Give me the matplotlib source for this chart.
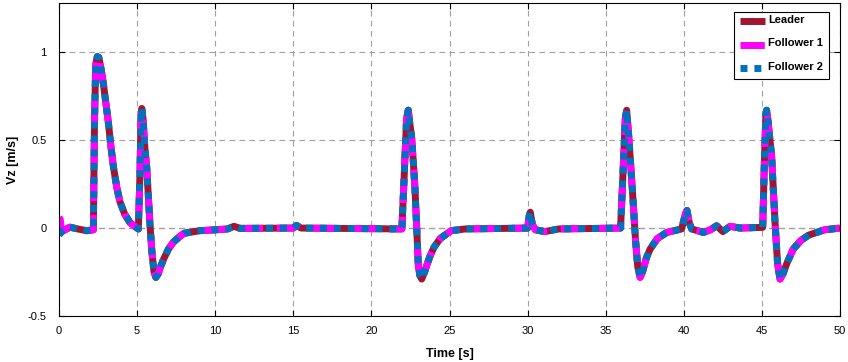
import numpy as np
import matplotlib.pyplot as plt

plt.rcParams['font.family'] = ['Liberation Sans', 'DejaVu Sans']

# Leader vertical velocity
leader_t = [0, 0.17, 0.7, 1.2, 1.77, 2.2, 2.27, 2.35, 2.45, 2.55, 2.7, 2.84, 3.0, 3.16, 3.3,
            3.48, 3.7, 3.9, 4.2, 4.55, 4.85, 5.08, 5.18, 5.25, 5.3, 5.38, 5.5, 5.61, 5.72,
            5.83, 5.95, 6.08, 6.2, 6.35, 6.5, 6.68, 7.0, 7.32, 7.7, 8.0, 9.0, 10.0, 10.8,
            11.2, 11.6, 15.0, 15.2, 15.5, 21.95, 22.1, 22.25, 22.36, 22.45, 22.58, 22.7,
            22.79, 22.9, 23.0, 23.1, 23.22, 23.4, 23.55, 23.75, 24.0, 24.4, 25.1, 26.0,
            30.0, 30.1, 30.17, 30.3, 30.5, 31.1, 32.0, 35.95, 36.1, 36.25, 36.34, 36.45,
            36.56, 36.77, 36.9, 37.05, 37.2, 37.35, 37.6, 37.84, 38.3, 38.9, 39.86, 40.1,
            40.2, 40.35, 40.5, 41.25, 41.7, 42.1, 42.5, 42.96, 43.6, 45.05, 45.15, 45.25,
            45.3, 45.4, 45.62, 45.84, 46.0, 46.16, 46.35, 46.6, 47.0, 47.5, 48.0, 49.0, 50.0]
leader_v = [-0.03, -0.02, 0.005, -0.005, -0.015, -0.01, 0.6, 0.93, 0.975, 0.97, 0.9, 0.82,
            0.71, 0.60, 0.48, 0.35, 0.23, 0.15, 0.08, 0.03, 0.01, -0.005, 0.3, 0.62, 0.68,
            0.62, 0.45, 0.35, 0.18, 0.01, -0.14, -0.25, -0.28, -0.26, -0.22, -0.18, -0.12,
            -0.08, -0.05, -0.03, -0.015, -0.01, -0.005, 0.01, -0.002, 0.0, 0.015, 0.0,
            -0.005, 0.3, 0.62, 0.67, 0.6, 0.51, 0.35, 0.22, 0.0, -0.21, -0.27, -0.29,
            -0.25, -0.21, -0.16, -0.11, -0.06, -0.015, -0.005, 0.0, 0.07, 0.09, 0.02,
            -0.01, -0.02, -0.005, 0.0, 0.3, 0.62, 0.67, 0.55, 0.41, 0.13, -0.06, -0.22,
            -0.28, -0.25, -0.17, -0.12, -0.06, -0.025, -0.005, 0.08, 0.1, 0.03, -0.005,
            -0.025, -0.01, 0.013, -0.02, 0.01, 0.0, 0.004, 0.35, 0.64, 0.67, 0.6, 0.41,
            0.03, -0.2, -0.29, -0.26, -0.2, -0.12, -0.07, -0.04, -0.01, 0.0]

# Followers track the leader, differing only at start
follower1_t = [0, 0.08] + leader_t[1:]
follower1_v = [0.06, 0.05] + leader_v[1:]
follower2_t = leader_t
follower2_v = [-0.04] + leader_v[1:]

fig = plt.figure(figsize=(8.48, 3.62), dpi=100)
ax = fig.add_axes([0.0696, 0.127, 0.921, 0.865])

ax.plot(leader_t, leader_v, color='#A2142F', lw=5, label='Leader',
        solid_joinstyle='round', solid_capstyle='butt')
ax.plot(follower1_t, follower1_v, color='#FF00FF', lw=5, ls=(0, (3.5, 2)),
        label='Follower 1', dash_capstyle='butt')
ax.plot(follower2_t, follower2_v, color='#0072BD', lw=5, ls=(0, (1, 1)),
        label='Follower 2', dash_capstyle='butt')

ax.axhline(0, color='black', lw=0.8, ls=(0, (5, 4)), zorder=0.5)

ax.set_xlim(0, 50)
ax.set_ylim(-0.5, 1.28)
ax.set_xticks(np.arange(0, 51, 5))
ax.set_yticks([-0.5, 0, 0.5, 1])
ax.set_yticklabels(['-0.5', '0', '0.5', '1'])
ax.grid(True, color='#a0a0a0', ls=(0, (5, 4)), lw=0.8)
ax.tick_params(direction='in', labelsize=8, right=True, top=True, length=4)
ax.tick_params(axis='x', pad=7)
ax.tick_params(axis='y', pad=9)

ax.set_xlabel('Time [s]', fontsize=9, fontweight='bold', labelpad=9)
ax.set_ylabel('Vz [m/s]', fontsize=9, fontweight='bold', labelpad=6)

leg = ax.legend(loc='upper right', bbox_to_anchor=(0.993, 0.99), fontsize=8,
                fancybox=False, edgecolor='black', framealpha=1,
                handlelength=2.3, borderpad=0.5, labelspacing=1.2, handletextpad=0.3,
                borderaxespad=0.5)
leg.get_frame().set_linewidth(0.8)
for txt in leg.get_texts():
    txt.set_fontweight('bold')
    txt.set_va('bottom')

fig.savefig('out.png', dpi=100)
